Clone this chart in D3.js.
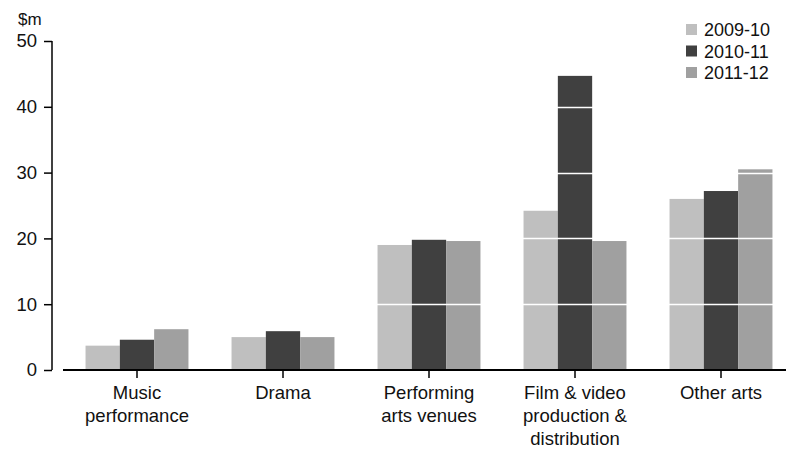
<!DOCTYPE html>
<html>
<head>
<meta charset="utf-8">
<script src="https://cdn.jsdelivr.net/npm/d3@7"></script>
<style>
  body { margin: 0; background: #fff; }
  svg { display: block; font-family: "Liberation Sans", Arial, sans-serif; }
</style>
</head>
<body>
<svg id="chart" width="786" height="454"></svg>
<script>
const categories = [
  ["Music", "performance"],
  ["Drama"],
  ["Performing", "arts venues"],
  ["Film & video", "production &", "distribution"],
  ["Other arts"]
];
const seriesNames = ["2009-10", "2010-11", "2011-12"];
const values2009 = [3.7, 5.0, 19.0, 24.2, 26.0];
const values2010 = [4.6, 5.9, 19.8, 44.7, 27.2];
const values2011 = [6.2, 5.0, 19.6, 19.6, 30.5];
const yTicks = [0, 10, 20, 30, 40, 50];
const gridValues = [10, 20, 30, 40];
const colors = ["#bfbfbf", "#404040", "#a0a0a0"];

const seriesValues = [values2009, values2010, values2011];
const svg = d3.select("#chart");

const yAxisX = 52;
const y = d3.scaleLinear().domain([0, 50]).range([370, 41]);
const catIdx = categories.map((d, i) => i);
const x = d3.scaleBand().domain(catIdx).range([64, 794]).paddingInner(0.295).paddingOuter(0.1475);
const xs = d3.scaleBand().domain(d3.range(seriesNames.length)).range([0, x.bandwidth()]);

// bars
const groups = svg.append("g").selectAll("g").data(catIdx).join("g")
  .attr("transform", i => `translate(${x(i)},0)`);
groups.selectAll("rect")
  .data(i => seriesValues.map((s, k) => ({k, v: s[i]})))
  .join("rect")
  .attr("x", d => xs(d.k))
  .attr("width", xs.bandwidth())
  .attr("y", d => y(d.v))
  .attr("height", d => y(0) - y(d.v))
  .attr("fill", d => colors[d.k]);

// white gridlines over bars
svg.append("g").selectAll("line").data(gridValues).join("line")
  .attr("x1", 64).attr("x2", 786)
  .attr("y1", d => Math.round(y(d)) + 0.5).attr("y2", d => Math.round(y(d)) + 0.5)
  .attr("stroke", "#fff").attr("stroke-width", 1.5);

// y axis
const yAxis = svg.append("g").attr("transform", `translate(${yAxisX},0)`)
  .call(d3.axisLeft(y).tickValues(yTicks).tickSize(8).tickPadding(7).tickFormat(d3.format("d")));
yAxis.select(".domain").attr("d", `M0,${y(50)}V${y(0)}`).attr("stroke", "#000").attr("stroke-width", 1.5);
yAxis.selectAll(".tick line").attr("stroke", "#000").attr("stroke-width", 1.5);
yAxis.selectAll(".tick text").attr("font-size", 18.5).attr("fill", "#111")
  .attr("font-family", "Liberation Sans, Arial, sans-serif");

svg.append("text").attr("x", 18).attr("y", 25).attr("font-size", 17).attr("fill", "#111").text("$m");

// x axis
const xAxis = svg.append("g").attr("transform", `translate(0,${y(0)})`)
  .call(d3.axisBottom(x).tickSize(8).tickFormat(""));
xAxis.select(".domain").attr("d", "M63,0H786").attr("stroke", "#000").attr("stroke-width", 2);
xAxis.selectAll(".tick line").attr("stroke", "#000").attr("stroke-width", 1.5);
xAxis.selectAll(".tick").each(function(i) {
  const t = d3.select(this).append("text")
    .attr("text-anchor", "middle").attr("font-size", 18.5).attr("fill", "#111")
    .attr("font-family", "Liberation Sans, Arial, sans-serif");
  categories[i].forEach((line, j) => {
    t.append("tspan").attr("x", 0).attr("y", 29 + j * 23).text(line);
  });
});

// legend
const legend = svg.append("g").selectAll("g").data(seriesNames).join("g")
  .attr("transform", (d, i) => `translate(686,${24 + i * 21.5})`);
legend.append("rect").attr("width", 11).attr("height", 11).attr("fill", (d, i) => colors[i]);
legend.append("text").attr("x", 18).attr("y", 12).attr("font-size", 18).attr("fill", "#111").text(d => d);
</script>
</body>
</html>
